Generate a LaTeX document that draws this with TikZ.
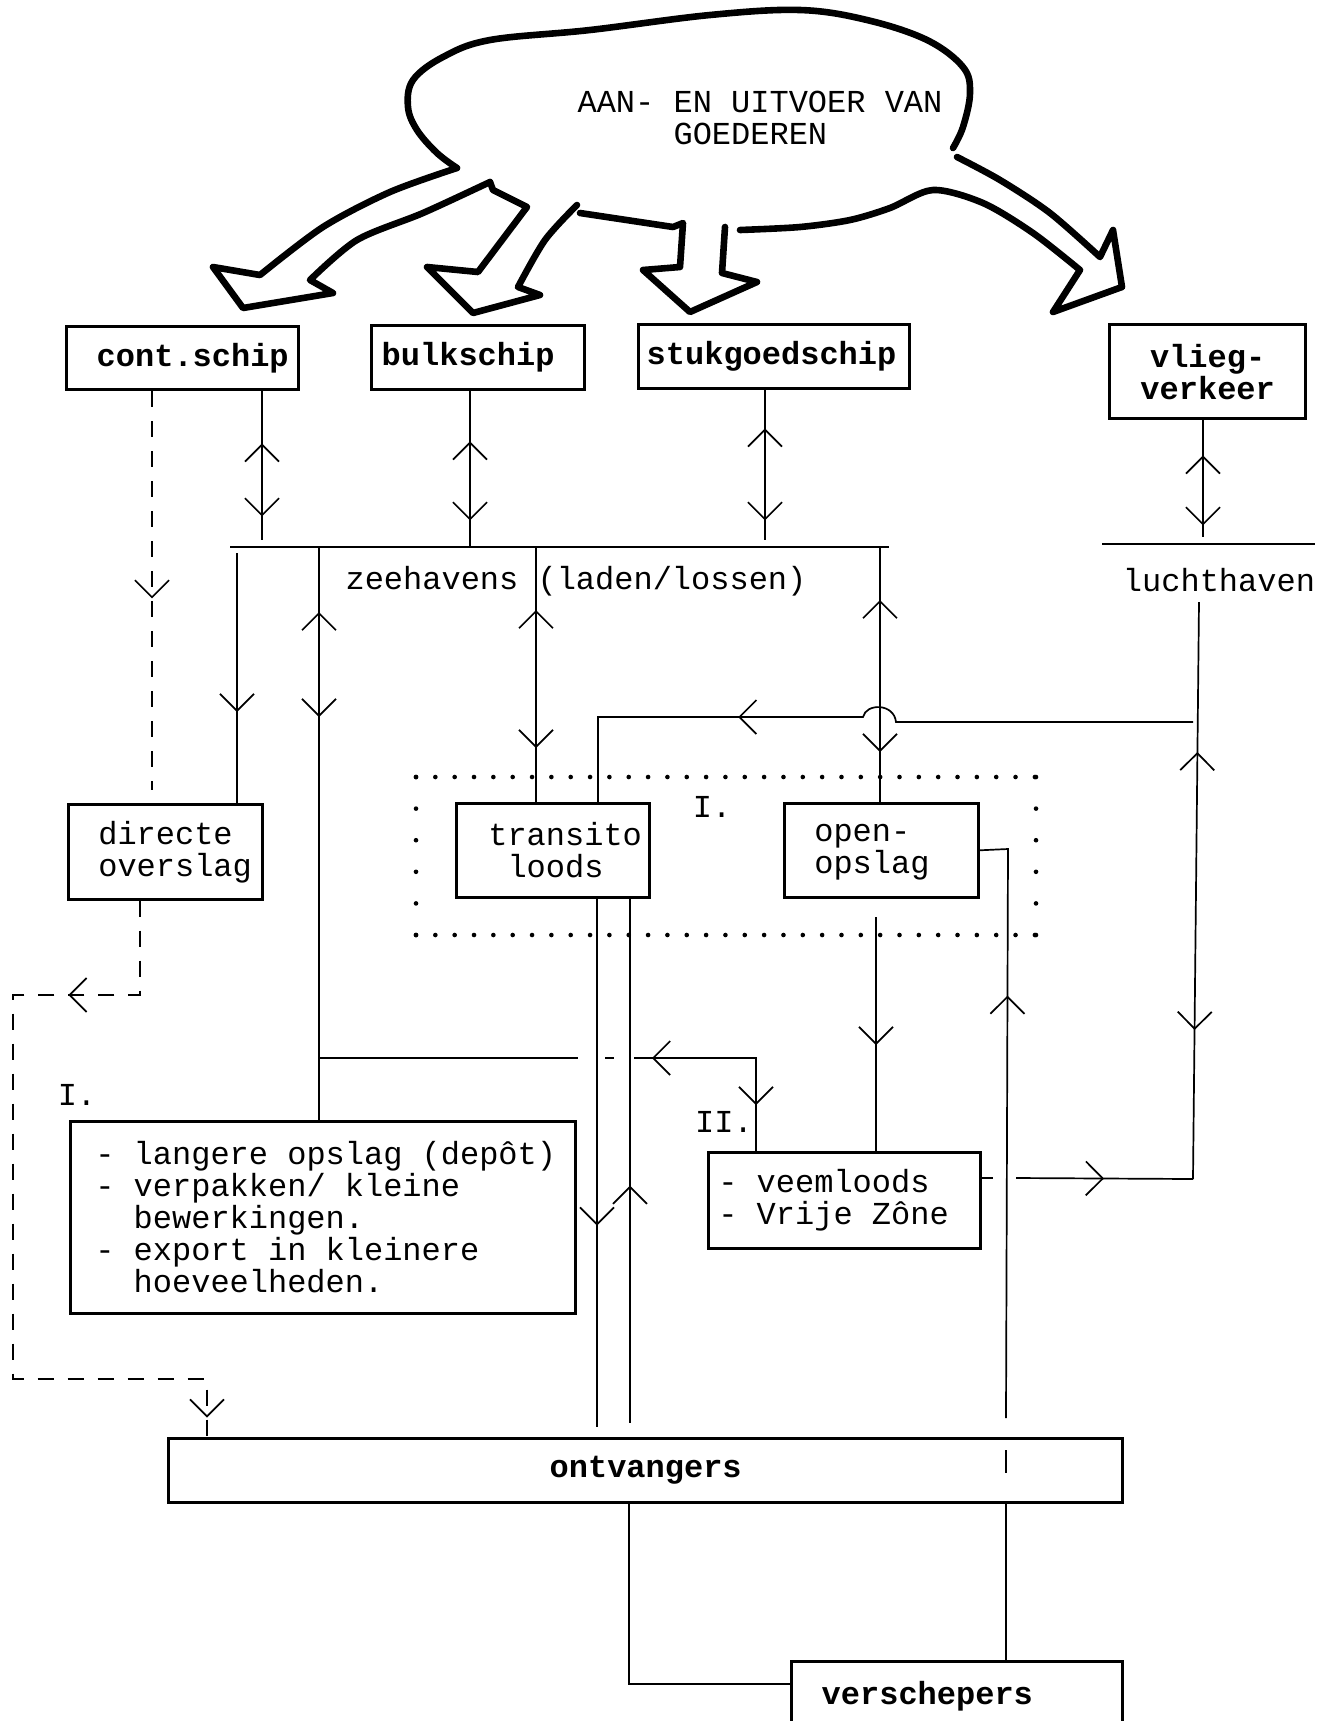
\documentclass[tikz,border=0pt]{standalone}
\usepackage{fontspec}
\setmonofont[HyphenChar=None]{Liberation Mono}
\usetikzlibrary{arrows.meta}
\usetikzlibrary{decorations.markings}

\tikzset{
  kader/.style={draw, line width=1.3pt, anchor=north west, align=left, inner ysep=0pt},
  dikkader/.style={kader, line width=1.7pt, font=\ttfamily\bfseries\fontsize{16}{16}\selectfont},
  fwd/.style={postaction={decorate, decoration={markings, mark=at position #1 with {\arrow{>}}}}},
  bwd/.style={postaction={decorate, decoration={markings, mark=at position #1 with {\arrowreversed{>}}}}},
  streep/.style={dash pattern=on 8pt off 7pt},
  wolk/.style={line width=3.3pt, line join=round, line cap=round},
  balk/.style={line width=1.2pt},
  puntrij/.style={line width=2.3pt, line cap=round, dash pattern=on 0pt off 9.67pt},
  puntkolom/.style={line width=2.3pt, line cap=round, dash pattern=on 0pt off 15.8pt},
}

\begin{document}
\begin{tikzpicture}[x=0.5pt, y=-0.5pt, >={Straight Barb[length=8.5pt,width=17pt]}, line width=0.85pt,
  every node/.style={font=\ttfamily\fontsize{16}{16}\selectfont, execute at begin node={\spaceskip=0pt\xspaceskip=0pt\relax}}]
\useasboundingbox (0,0) rectangle (1332,1721);

% Define nodes
\node (goods) [align=left] at (760,118) {AAN- EN UITVOER VAN\\\hspace*{48pt}GOEDEREN};
\node (cont) [dikkader, inner xsep=15pt, text width=86pt, minimum height=31.5pt] at (65,325) {cont.schip};
\node (bulk) [dikkader, inner xsep=5pt, text width=96.5pt, minimum height=32pt] at (370,324) {bulkschip};
\node (stuk) [dikkader, inner xsep=4pt, text width=127.5pt, minimum height=32pt] at (637,323) {stukgoedschip};
\node (vlieg) [dikkader, align=center, minimum width=98pt, minimum height=47pt] at (1108,323) {vlieg-\\verkeer};
\node (zeetext) at (576,581) {zeehavens (laden/lossen)};
\node (luchttext) at (1219,580) {luchthaven};
\node (direct) [kader, inner xsep=15pt, text width=67pt, minimum height=47.5pt] at (67,803) {directe\\overslag};
\node (transito) [kader, inner xsep=16pt, text width=64.5pt, minimum height=47pt] at (455,802) {transito\\\hspace*{9.6pt}loods};
\node (open) [kader, inner xsep=15pt, text width=67pt, minimum height=47pt] at (783,802) {\vphantom{A}open-\\opslag};
\node (groep1) at (712,807) {I.};
\node (groep1b) at (77,1095) {I.};
\node (groep2) at (724,1122) {II.};
\node (depot) [kader, inner xsep=12.5pt, text width=227.5pt, minimum height=96pt] at (69,1120) {\mbox{- langere opslag (depôt)}\\- verpakken/ kleine\\\hspace*{19.2pt}bewerkingen.\\- export in kleinere\\\hspace*{19.2pt}hoeveelheden.};
\node (veem) [kader, inner xsep=5pt, text width=126pt, minimum height=48pt] at (707,1151) {- veemloods\\- Vrije Zône};
\node (ontv) [dikkader, minimum width=477pt, minimum height=32pt] at (167,1437) {ontvangers};
\node (versch) [dikkader, inner xsep=15pt, text width=135.5pt, minimum height=35pt] at (790,1660) {verschepers};

% Cloud with the four big arrows
\draw[wolk] plot[smooth, tension=0.6] coordinates {(457,168) (437,153) (417,130) (408,107) (413,80) (443,57) (490,40) (590,30) (710,15) (800,10) (867,20) (927,40) (963,67) (970,93) (963,127) (953,148)};
\draw[wolk] plot[smooth] coordinates {(957,157) (1000,180) (1050,213) (1100,257)} -- (1113,230) -- (1122,287) -- (1053,312) -- (1080,270) -- plot[smooth] coordinates {(1080,270) (1033,233) (983,203) (933,190) (890,208) (850,220) (800,227) (740,230)};
\draw[wolk] (725,227) -- (722,273) -- (757,282) -- (690,312) -- (643,270) -- (680,267) -- (683,223) -- (673,227) -- (580,213);
\draw[wolk] plot[smooth] coordinates {(577,205) (545,240) (518,287)} -- (540,295) -- (473,313) -- (427,267) -- (478,272) -- (527,207) -- (493,190) -- (490,182);
\draw[wolk] plot[smooth] coordinates {(490,182) (423,213) (357,240) (310,280)} -- (333,293) -- (243,308) -- (213,267) -- (260,275) -- plot[smooth] coordinates {(260,275) (323,227) (390,192) (457,168)};

% Harbour bars
\coordinate (zeeL) at (230,547);
\coordinate (zeeR) at (889,547);
\draw[balk] (zeeL) -- (zeeR);
\coordinate (luchtL) at (1102,544);
\coordinate (luchtR) at (1315,544);
\draw[balk] (luchtL) -- (luchtR);

% Dotted frame I.
\draw[puntrij] (416,777) -- (1036,777);
\draw[puntrij] (416,935) -- (1036,935);
\draw[puntkolom] (416,777) -- (416,935);
\draw[puntkolom] (1036,777) -- (1036,935);

% Draw edges between ships and harbours
\coordinate (c1) at (262,540);
\draw[bwd=26pt, fwd=62.5pt] (cont.south -| c1) -- (c1);
\coordinate (c2) at (470,547);
\draw[bwd=25pt, fwd=64.5pt] (bulk.south -| c2) -- (c2);
\coordinate (c3) at (765,540);
\draw[bwd=19pt, fwd=65pt] (stuk.south -| c3) -- (c3);
\coordinate (c4) at (1203,537);
\draw[bwd=17.5pt, fwd=52.5pt] (vlieg.south -| c4) -- (c4);
\coordinate (c5) at (152,790);
\draw[streep, fwd=103.5pt] (cont.south -| c5) -- (c5);

% Draw edges from zeehavens
\coordinate (z1) at (237,553);
\draw[fwd=79.5pt] (z1) -- (direct.north -| z1);
\coordinate (z2) at (319,547);
\draw[bwd=32.5pt, fwd=85pt] (z2) -- (depot.north -| z2);
\coordinate (z3) at (536,547);
\draw[bwd=31.5pt, fwd=100.5pt] (z3) -- (transito.north -| z3);
\coordinate (z4) at (880,547);
\draw[bwd=26.5pt, fwd=102.5pt] (z4) -- (open.north -| z4);

% Draw edges from luchthaven
\coordinate (l0) at (1199,602);
\coordinate (l2) at (1193,1179);
\draw[bwd=75pt, fwd=214pt] (l0) -- (l2);
\coordinate (l1) at (1193,722);
\coordinate (t2) at (598,717);
\draw[fwd=233.5pt] (l1) -- (896,722) .. controls (894,703) and (866,703) .. (863,717) -- (t2) -- (transito.north -| t2);
\coordinate (v0) at (993,1178);
\coordinate (v1) at (1016,1178);
\draw (veem.east |- v0) -- (v0);
\draw[fwd=44pt] (v1) -- (l2);

% Draw edges to veemloods (II.)
\coordinate (d1) at (319,1058);
\coordinate (d2) at (756,1058);
\draw (d1) -- (578,1058) (605,1058) -- (614,1058);
\draw[bwd=9pt, fwd=84.5pt] (634,1058) -- (d2) -- (veem.north -| d2);
\coordinate (o1) at (876,917);
\draw[fwd=64pt] (o1) -- (veem.north -| o1);

% Draw edges from verschepers up to open-opslag
\coordinate (o2) at (1008,849);
\coordinate (o3) at (1006,1418);
\draw[bwd=87.5pt] (open.east) -- (o2) -- (o3);
\draw (1006,1450) -- (1006,1473);
\draw (1006,1503) -- (versch.north -| o3);

% Draw edges to ontvangers
\coordinate (t3) at (597,1427);
\coordinate (t4) at (630,1423);
\draw[fwd=163.5pt] (transito.south -| t3) -- (t3);
\draw[bwd=143.5pt] (transito.south -| t4) -- (t4);
\coordinate (r1) at (629,1684);
\draw (ontv.south -| r1) -- (r1) -- (versch.west |- r1);
\coordinate (e1) at (140,995);
\coordinate (e2) at (13,995);
\coordinate (e3) at (13,1379);
\coordinate (e4) at (207,1379);
\draw[streep, fwd=83pt, fwd=419pt] (direct.south -| e1) -- (e1) -- (e2) -- (e3) -- (e4) -- (ontv.north -| e4);

\end{tikzpicture}
\end{document}
